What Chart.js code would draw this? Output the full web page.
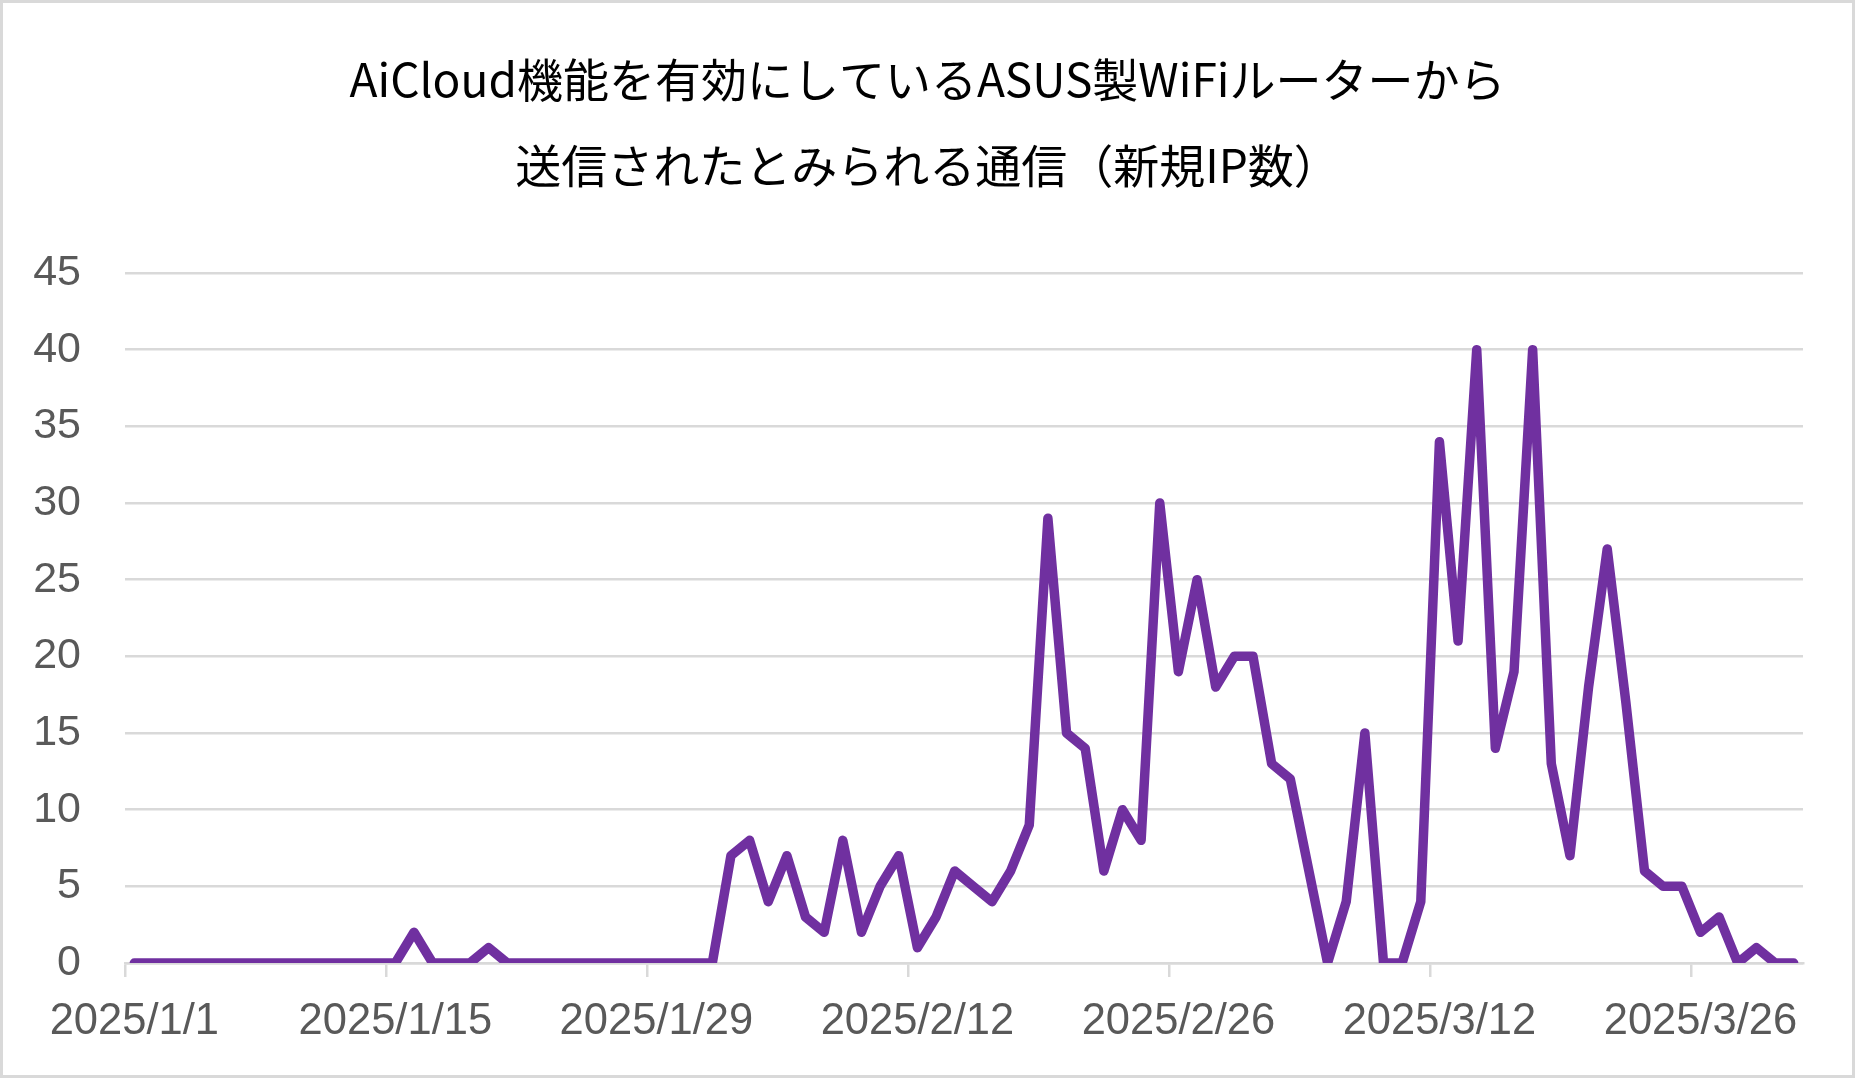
<!DOCTYPE html>
<html>
<head>
<meta charset="utf-8">
<script src="https://cdn.jsdelivr.net/npm/chart.js@4/dist/chart.umd.min.js"></script>
<style>
  html, body { margin: 0; padding: 0; background: #ffffff; }
  #wrap { position: relative; width: 1855px; height: 1078px; box-sizing: border-box; border: 3px solid #d9d9d9; background: #fff; }
  canvas { display: block; }
</style>
</head>
<body>
<div id="wrap"><canvas id="c" width="1849" height="1072"></canvas></div>
<script>
// ---- data ----
const titleLines = ["AiCloud機能を有効にしているASUS製WiFiルーターから", "送信されたとみられる通信（新規IP数）"];
const startDate = [2025, 1, 1];
const dayCount = 90;
const newIpCounts = [
  0,0,0,0,0,0,0,0,0,0,0,0,0,0,0,
  2,0,0,0,1,0,
  0,0,0,0,0,0,0,0,0,0,0,
  7,8,4,7,3,2,8,2,5,7,1,3,6,5,4,6,9,
  29,15,14,6,10,8,30,19,25,18,20,20,13,12,6,0,4,15,0,0,4,
  34,21,40,14,19,40,13,7,18,27,17,6,5,5,2,3,0,1,0,0
];
const yTicks = [0,5,10,15,20,25,30,35,40,45];
const labelEvery = 14;

// build date labels
const dateLabels = [];
for (let i = 0; i < dayCount; i++) {
  const d = new Date(startDate[0], startDate[1] - 1, startDate[2] + i);
  dateLabels.push(d.getFullYear() + "/" + (d.getMonth() + 1) + "/" + d.getDate());
}

// centered two-line title drawn across the full canvas width
const centeredTitle = {
  id: 'centeredTitle',
  afterDraw(chart) {
    const c = chart.ctx;
    c.save();
    c.fillStyle = '#000000';
    c.font = '46px "Noto Sans CJK JP", "Noto Sans", sans-serif';
    c.textAlign = 'center';
    c.textBaseline = 'middle';
    const cx = chart.width / 2;
    titleLines.forEach((t, i) => c.fillText(t, cx, 77 + i * 86));
    c.restore();
  }
};

const ctx = document.getElementById('c').getContext('2d');
new Chart(ctx, {
  type: 'line',
  data: {
    labels: dateLabels,
    datasets: [{
      data: newIpCounts,
      borderColor: '#7030A0',
      backgroundColor: '#7030A0',
      borderWidth: 9.5,
      pointRadius: 0,
      tension: 0,
      borderJoinStyle: 'round',
      borderCapStyle: 'round',
      fill: false
    }]
  },
  plugins: [centeredTitle],
  options: {
    responsive: false,
    animation: false,
    devicePixelRatio: 1,
    layout: { padding: { left: 0, right: 49, top: 270, bottom: 0 } },
    plugins: {
      legend: { display: false },
      tooltip: { enabled: false },
      title: { display: false }
    },
    scales: {
      x: {
        type: 'category',
        offset: true,
        grid: {
          offset: true,
          drawOnChartArea: false,
          drawTicks: true,
          tickLength: 14,
          color: function(c) { return (c.index % labelEvery === 0 && c.index < dayCount) ? '#d9d9d9' : 'rgba(0,0,0,0)'; },
          lineWidth: 2.5
        },
        border: { display: true, color: '#d9d9d9', width: 2.5 },
        ticks: {
          autoSkip: false,
          maxRotation: 0,
          minRotation: 0,
          padding: 19,
          color: '#595959',
          font: { family: '"Liberation Sans", Arial, sans-serif', size: 43.5 },
          callback: function(v, i) { return (i % labelEvery === 0) ? dateLabels[i] : ''; }
        },
        afterFit: function(s) { s.height = 112; }
      },
      y: {
        min: 0,
        max: 45,
        afterBuildTicks: function(s) { s.ticks = yTicks.map(v => ({ value: v })); },
        grid: { drawTicks: false, color: '#d9d9d9', lineWidth: 2.5 },
        border: { display: false },
        ticks: {
          padding: 44,
          color: '#595959',
          font: { family: '"Liberation Sans", Arial, sans-serif', size: 43 }
        },
        afterFit: function(s) { s.width = 122; }
      }
    }
  }
});
</script>
</body>
</html>
